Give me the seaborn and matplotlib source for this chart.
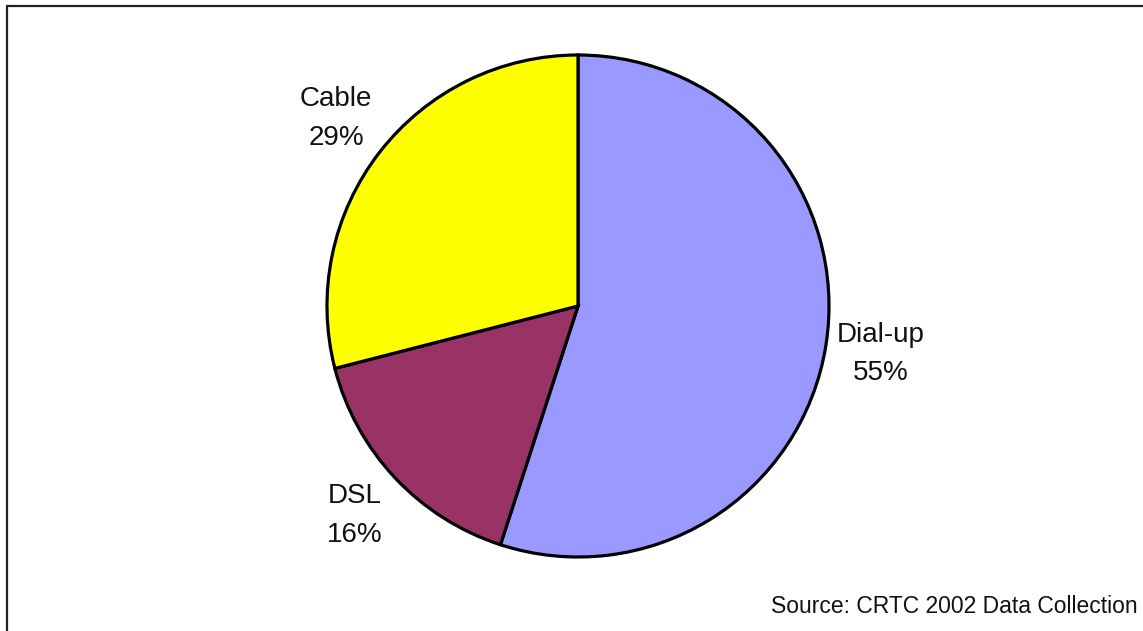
import matplotlib
matplotlib.use("Agg")
import matplotlib.pyplot as plt
from matplotlib.patches import Rectangle
import seaborn as sns

# Residential internet access by connection type
categories = ["Dial-up", "DSL", "Cable"]
shares = [55, 16, 29]
colors = ["#9999FF", "#993366", "#FFFF00"]
source_note = "Source: CRTC 2002 Data Collection"

sns.set_theme(style="white")
plt.rcParams["font.family"] = ["Liberation Sans", "DejaVu Sans"]

W, H, DPI = 1143, 631, 100
fig = plt.figure(figsize=(W / DPI, H / DPI), dpi=DPI)
fig.patch.set_facecolor("white")

# Axes spanning the whole figure; unit radius equals R pixels
cx, cy, R = 578, 306, 251
ax = fig.add_axes([0, 0, 1, 1])

labels = [f"{c}\n{s}%" for c, s in zip(categories, shares)]
wedges, texts = ax.pie(
    shares,
    labels=labels,
    colors=colors,
    startangle=90,
    counterclock=False,
    radius=1.0,
    labeldistance=1.22,
    wedgeprops=dict(edgecolor="black", linewidth=2.3),
    textprops=dict(fontsize=20, color="#111111", linespacing=1.62),
)
for t in texts:
    t.set_horizontalalignment("center")
    t.set_verticalalignment("center")
    t.set_multialignment("center")

ax.set_xlim(-cx / R, (W - cx) / R)
ax.set_ylim(-(H - cy) / R, cy / R)
ax.set_aspect("equal")
ax.axis("off")

# Outer frame (only top and left edges fall inside the canvas)
fig.patches.append(
    Rectangle((7 / W, -0.2), 1.5, 1.2 - 6 / H, transform=fig.transFigure,
              fill=False, edgecolor="#222222", linewidth=1.6)
)

fig.text(1138 / W, 1 - 613 / H, source_note, ha="right", va="baseline",
         fontsize=16.5, color="#111111")

fig.savefig("out.png", dpi=DPI, facecolor="white")
